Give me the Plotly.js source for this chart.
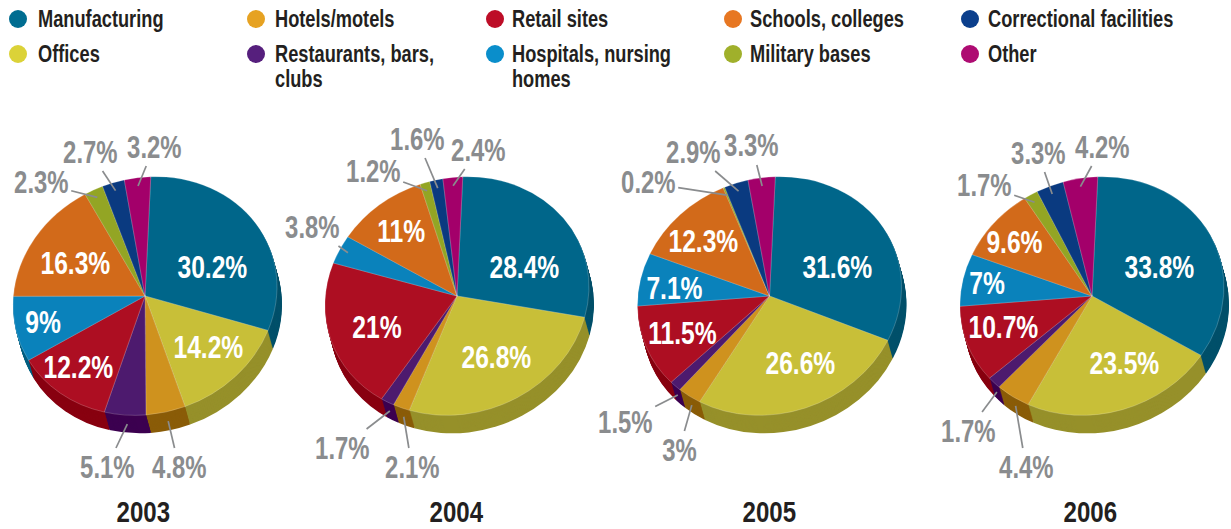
<!DOCTYPE html>
<html><head><meta charset="utf-8">
<script src="https://cdn.plot.ly/plotly-3.0.1.min.js"></script>
<style>html,body{margin:0;padding:0;background:#fff;overflow:hidden}#c{width:1231px;height:529px}</style>
</head><body><div id="c"></div>
<script>
// ---- data ----
var categories = ['Manufacturing','Offices','Hotels/motels','Restaurants, bars,<br>clubs','Retail sites','Hospitals, nursing<br>homes','Schools, colleges','Military bases','Correctional facilities','Other'];
var years = ['2003','2004','2005','2006'];
var values2003 = [30.2,14.2,4.8,5.1,12.2,9,16.3,2.3,2.7,3.2];
var values2004 = [28.4,26.8,2.1,1.7,21,3.8,11,1.2,1.6,2.4];
var values2005 = [31.6,26.6,3,1.5,11.5,7.1,12.3,0.2,2.9,3.3];
var values2006 = [33.8,23.5,4.4,1.7,10.7,7,9.6,1.7,3.3,4.2];
var series = [values2003,values2004,values2005,values2006];

// ---- styles ----
var legendColors = ['#006d91','#dbd238','#e6a222','#561f7d','#bd0d27','#0a8ecb','#e77722','#a0b02b','#0b3f8c','#ae0b72'];
var topColors    = ['#00668a','#c8bf38','#cf921e','#4d1a6e','#ad0e22','#0a82bb','#d26a1a','#93a524','#0a3a80','#a3006a'];
var wallColors   = ['#00506a','#96902a','#8a5c08','#3c0050','#880010','#005f80','#a85010','#748218','#082c60','#800050'];
var FONT = '"Liberation Sans",sans-serif';
var GRAY = '#8a8c8e';
var W = 1231, H = 529;
var centers = [[145,296],[457,296],[769.5,296],[1092,296]];
var rx = 132, ry = 119, skew = -0.07, wallDx = 5, wallDy = 18;
var rotation = 2.5;
var yearLabelX = [143,456,769,1090];

// label centres on the page (layout only, not data); index = category
var labelPos = [
 [[212,267],[208,347],[179,467],[107,467],[78,367],[43,322],[75,263],[41,183],[90,152],[154,147]],
 [[524,267],[496,357],[412,467],[342,448],[377,327],[312,227],[401,231],[373,171],[417,139],[478,150]],
 [[837,267],[801,363],[679,450],[625,422],[682,333],[674,288],[703,241],[648,183],[693,152],[752,146]],
 [[1159,267],[1124,363],[1026,467],[968,431],[1003,327],[987,283],[1014,242],[984,185],[1038,153],[1102,147]]
];
var outside = [[2,3,7,8,9],[2,3,5,7,8,9],[2,3,7,8,9],[2,3,7,8,9]];

var traces = [], annotations = [], shapes = [], squeeze = [];
function dom(cx,cy,r){return {x:[(cx-r)/W,(cx+r)/W],y:[1-(cy+r)/H,1-(cy-r)/H]};}
var tilt = [];

function addText(o,sx,pivot){ annotations.push(o); squeeze.push({sx:sx,pivot:pivot}); }

var wallSteps = 18;
series.forEach(function(vals,p){
  var cx = centers[p][0], cy = centers[p][1];
  for(var n=wallSteps;n>=0;n--){
    var f = n/wallSteps;
    traces.push({type:'pie',values:vals,labels:categories,sort:false,direction:'clockwise',
      rotation:rotation,textinfo:'none',hoverinfo:'skip',showlegend:false,automargin:false,
      domain:dom(cx+wallDx*f,cy+wallDy*f,rx),
      marker:{colors:n===0?topColors:wallColors,line:{color:n===0?'rgba(255,255,255,0.35)':'rgba(0,0,0,0)',width:n===0?0.6:0}}});
    tilt.push([cx+wallDx*f,cy+wallDy*f]);
  }
  var cum = 0;
  vals.forEach(function(v,i){
    var th = (rotation+(cum+v/2)*3.6)*Math.PI/180; cum += v;
    var txt = v+'%', pos = labelPos[p][i];
    var isOut = outside[p].indexOf(i)>=0;
    addText({xref:'paper',yref:'paper',x:pos[0]/W,y:1-pos[1]/H,text:txt,showarrow:false,
      xanchor:'center',yanchor:'middle',
      font:{family:FONT,size:isOut?31:32,color:isOut?GRAY:'#ffffff',weight:700}},0.77,'c');
    if(isOut){
      var s = Math.sin(th), c = Math.cos(th), hx, hy;
      if(c<0){ hx = cx+rx*s+wallDx*0.5; hy = cy-ry*c+rx*s*skew+wallDy*0.5; }
      else   { hx = cx+rx*0.93*s; hy = cy-ry*0.93*c+rx*0.93*s*skew; }
      var dx = hx-pos[0], dy = hy-pos[1];
      var hw = txt.length*6.8+3, hh = 19;
      var t = Math.min(Math.abs(dx)>0?hw/Math.abs(dx):1e9, Math.abs(dy)>0?hh/Math.abs(dy):1e9);
      shapes.push({type:'line',xref:'paper',yref:'paper',layer:'above',
        x0:hx/W,y0:1-hy/H,x1:(pos[0]+dx*t)/W,y1:1-(pos[1]+dy*t)/H,line:{color:GRAY,width:1.7}});
    }
  });
  addText({xref:'paper',yref:'paper',x:yearLabelX[p]/W,y:1-512/H,text:years[p],showarrow:false,
    xanchor:'center',yanchor:'middle',font:{family:FONT,size:29,color:'#231f20',weight:700}},0.83,'c');
});

// legend
var legendOrder = [0,2,4,6,8,1,3,5,7,9];
var colX = [18,256,495,733,970], textX = [36,273,510,748,986], rowY = [19,54];
legendOrder.forEach(function(ci,k){
  var col = k%5, row = Math.floor(k/5), x = colX[col], y = rowY[row];
  shapes.push({type:'circle',xref:'paper',yref:'paper',x0:(x-9)/W,x1:(x+9)/W,y0:1-(y+9)/H,y1:1-(y-9)/H,
    fillcolor:legendColors[ci],line:{width:0}});
  addText({xref:'paper',yref:'paper',x:textX[col]/W,y:1-(y-16)/H,text:categories[ci],showarrow:false,
    xanchor:'left',yanchor:'top',align:'left',font:{family:FONT,size:24,color:'#231f20',weight:700}},0.76,'l');
});

Plotly.newPlot('c',traces,{width:W,height:H,margin:{l:0,r:0,t:0,b:0},paper_bgcolor:'#fff',
  showlegend:false,annotations:annotations,shapes:shapes},{displayModeBar:false,staticPlot:true}).then(function(gd){
  var k = ry/rx;
  gd.querySelectorAll('.pielayer .trace').forEach(function(g,i){
    var c = tilt[i];
    var f = c[1]-k*c[1]-skew*c[0];
    g.setAttribute('transform','matrix(1,'+skew+',0,'+k+',0,'+f+')');
  });
  gd.querySelectorAll('.annotation').forEach(function(a,i){
    var t = a.querySelector('text'); if(!t) return;
    var q = squeeze[+a.getAttribute('data-index')] || squeeze[i];
    var lines = t.querySelectorAll('tspan.line');
    if(lines.length>1) lines[1].setAttribute('dy','1.04em');
    var b = t.getBBox();
    var px = q.pivot==='l' ? b.x : b.x+b.width/2;
    t.setAttribute('transform','translate('+px+',0) scale('+q.sx+',1) translate('+(-px)+',0)');
  });
});
</script></body></html>
